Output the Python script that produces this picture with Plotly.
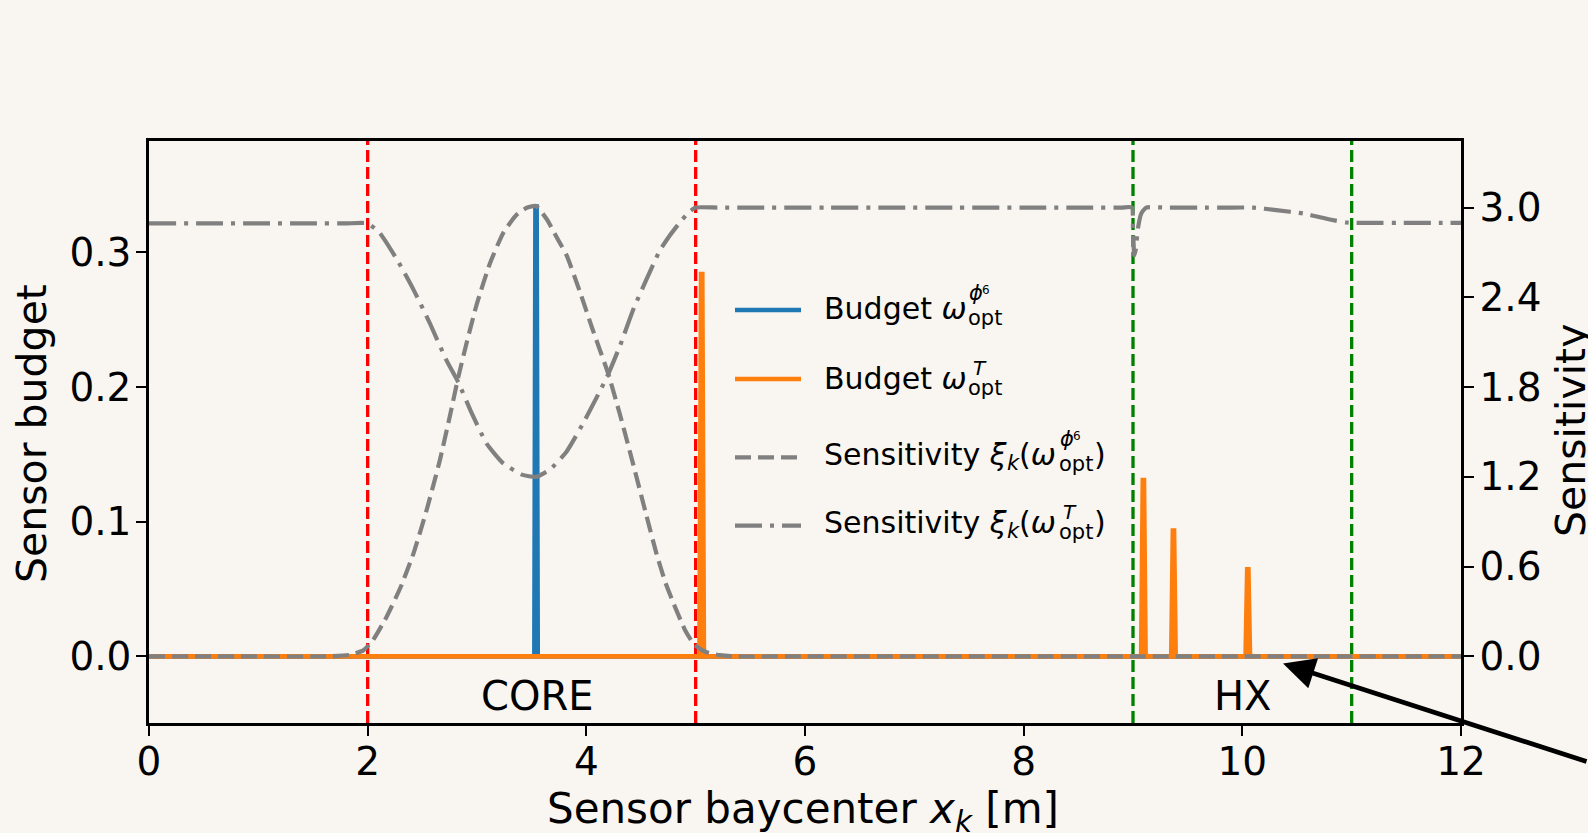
import plotly.graph_objects as go

# ---------------- data ----------------
# sensor barycentre positions [m] and sensitivity read along the loop
sens_phi6_x = [0.0, 0.8, 1.65, 1.84, 1.96, 2.05, 2.17, 2.30, 2.42, 2.54, 2.66, 2.75, 2.83, 2.91,
               3.00, 3.12, 3.24, 3.36, 3.46, 3.54, 3.64, 3.73, 3.82, 3.94, 4.06, 4.20, 4.31,
               4.43, 4.55, 4.64, 4.72, 4.80, 4.90, 4.98, 5.05, 5.12, 5.22, 5.35, 6.0, 7.0,
               8.0, 9.0, 10.0, 11.0, 12.0]
sens_phi6_y = [0.0, 0.0, 0.0, 0.01, 0.04, 0.11, 0.26, 0.46, 0.69, 0.98, 1.31, 1.60, 1.87, 2.11,
               2.36, 2.63, 2.83, 2.95, 3.00, 3.01, 2.92, 2.80, 2.68, 2.44, 2.18, 1.89, 1.61,
               1.28, 0.94, 0.69, 0.50, 0.35, 0.18, 0.085, 0.045, 0.022, 0.008, 0.0, 0.0, 0.0,
               0.0, 0.0, 0.0, 0.0, 0.0]

sens_T_x = [0.0, 0.5, 1.0, 1.5, 1.8, 2.00, 2.11, 2.27, 2.42, 2.57, 2.72, 2.83, 2.94, 3.09,
            3.24, 3.41, 3.54, 3.67, 3.82, 3.98, 4.19, 4.31, 4.43, 4.55, 4.67, 4.76, 4.86,
            4.94, 5.00, 5.2, 5.6, 6.2, 6.8, 7.4, 8.0, 8.6, 8.9, 8.99, 9.00, 9.012, 9.025,
            9.045, 9.075, 9.12, 9.3, 9.6, 9.9, 10.10, 10.31, 10.56, 10.80, 10.95, 11.0,
            11.2, 11.5, 11.8, 12.0]
sens_T_y = [2.894, 2.894, 2.894, 2.894, 2.894, 2.894, 2.83, 2.65, 2.45, 2.225, 1.98, 1.83,
            1.645, 1.42, 1.29, 1.215, 1.20, 1.25, 1.37, 1.57, 1.87, 2.08, 2.32, 2.52, 2.71,
            2.81, 2.905, 2.97, 3.0, 3.0, 3.0, 3.0, 3.0, 3.0, 3.0, 3.0, 3.0, 3.0, 2.86, 2.68,
            2.72, 2.86, 2.96, 3.0, 3.0, 3.0, 3.0, 3.0, 2.983, 2.96, 2.92, 2.90, 2.898,
            2.898, 2.898, 2.898, 2.898]

# optimal sensor budgets (zero everywhere except at the selected sensors)
budget_phi6_x = [0.0, 3.525, 3.535, 3.545, 3.555, 12.0]
budget_phi6_y = [0.0, 0.0, 0.334, 0.334, 0.0, 0.0]

budget_T_x = [0.0, 5.035, 5.05, 5.06, 5.075, 9.075, 9.09, 9.10, 9.115,
              9.35, 9.365, 9.375, 9.39, 10.03, 10.045, 10.055, 10.07, 12.0]
budget_T_y = [0.0, 0.0, 0.284, 0.284, 0.0, 0.0, 0.131, 0.131, 0.0,
              0.0, 0.0935, 0.0935, 0.0, 0.0, 0.0646, 0.0646, 0.0, 0.0]

core_bounds = [2.0, 5.0]
hx_bounds = [9.0, 11.0]
region_labels = ["CORE", "HX"]
region_centers = [3.55, 10.0]

x_ticks = [0, 2, 4, 6, 8, 10, 12]
budget_ticks = [0.0, 0.1, 0.2, 0.3]
sens_ticks = [0.0, 0.6, 1.2, 1.8, 2.4, 3.0]

# ---------------- styling ----------------
BG = "#f9f6f1"
FONT = "DejaVu Sans"
BLUE = "#1f77b4"
ORANGE = "#ff7f0e"
GRAY = "#808080"

W, H = 1588, 833
L, R, T, B = 149, 127, 141, 110
PW, PH = W - L - R, H - T - B


def px(xp):
    return (xp - L) / PW


def py(yp):
    return (H - B - yp) / PH


fig = go.Figure()

fig.add_trace(go.Scatter(x=budget_phi6_x, y=budget_phi6_y, mode="lines",
                         line=dict(color=BLUE, width=4.7), yaxis="y"))
fig.add_trace(go.Scatter(x=budget_T_x, y=budget_T_y, mode="lines",
                         line=dict(color=ORANGE, width=4.7), yaxis="y"))
fig.add_trace(go.Scatter(x=sens_phi6_x, y=sens_phi6_y, mode="lines",
                         line=dict(color=GRAY, width=4.2, dash="16px,7px",
                                   shape="spline", smoothing=0.5),
                         yaxis="y2"))
fig.add_trace(go.Scatter(x=sens_T_x, y=sens_T_y, mode="lines",
                         line=dict(color=GRAY, width=4.2, dash="27px,8px,4px,8px",
                                   shape="spline", smoothing=0.5),
                         yaxis="y2"))

# region boundaries
for xv in core_bounds:
    fig.add_shape(type="line", xref="x", yref="paper", x0=xv, x1=xv, y0=0, y1=1,
                  line=dict(color="red", width=3.3, dash="12px,5px"), layer="below")
for xv in hx_bounds:
    fig.add_shape(type="line", xref="x", yref="paper", x0=xv, x1=xv, y0=0, y1=1,
                  line=dict(color="green", width=3.3, dash="12px,5px"), layer="below")

annotations = []

# region names
for name, xc in zip(region_labels, region_centers):
    annotations.append(dict(x=xc, xref="x", y=py(696), yref="paper", text=name,
                            showarrow=False, xanchor="center", yanchor="middle",
                            font=dict(family=FONT, size=40, color="black")))


def txt(text, x_left, baseline, size):
    annotations.append(dict(x=px(x_left), y=py(baseline - 0.346 * size),
                            xref="paper", yref="paper", text=text, showarrow=False,
                            xanchor="left", yanchor="middle", borderpad=0, borderwidth=0,
                            font=dict(family=FONT, size=size, color="black")))


# legend
leg_rows = [
    (310, 319.3, dict(color=BLUE, width=4.7)),
    (379, 389.3, dict(color=ORANGE, width=4.7)),
    (457.3, 465.0, dict(color=GRAY, width=4.2, dash="16px,7px")),
    (525.7, 533.3, dict(color=GRAY, width=4.2, dash="27px,8px,4px,8px")),
]
for ly, _, lstyle in leg_rows:
    fig.add_shape(type="line", xref="paper", yref="paper", x0=px(735), x1=px(801),
                  y0=py(ly), y1=py(ly), line=lstyle, layer="above")

b1, b2, b3, b4 = [r[1] for r in leg_rows]
txt("Budget <i>ω</i>", 824, b1, 30)
txt("<i>ϕ</i>", 969, b1 - 19, 21)
txt("6", 982, b1 - 25, 12)
txt("opt", 968, b1 + 6, 21)

txt("Budget <i>ω</i>", 824, b2, 30)
txt("<i>T</i>", 973, b2 - 14, 20)
txt("opt", 968, b2 + 6, 21)

for bl, sup in [(b3, "phi"), (b4, "T")]:
    txt("Sensitivity <i>ξ</i>", 824, bl, 30)
    txt("<i>k</i>", 1007, bl + 5, 21)
    txt("(<i>ω</i>", 1019, bl, 30)
    if sup == "phi":
        txt("<i>ϕ</i>", 1060, bl - 19, 21)
        txt("6", 1073, bl - 25, 12)
    else:
        txt("<i>T</i>", 1063, bl - 14, 20)
    txt("opt", 1059, bl + 6, 21)
    txt(")", 1094, bl, 30)

# axis titles
annotations.append(dict(x=px(803), y=py(811), xref="paper", yref="paper",
                        text="Sensor baycenter <i>x</i><sub><i>k</i></sub> [m]",
                        showarrow=False, xanchor="center", yanchor="middle",
                        font=dict(family=FONT, size=42, color="black")))
annotations.append(dict(x=px(32), y=py(434), xref="paper", yref="paper",
                        text="Sensor budget", textangle=-90, showarrow=False,
                        xanchor="center", yanchor="middle",
                        font=dict(family=FONT, size=41, color="black")))
annotations.append(dict(x=px(1571), y=py(430), xref="paper", yref="paper",
                        text="Sensitivity", textangle=-90, showarrow=False,
                        xanchor="center", yanchor="middle",
                        font=dict(family=FONT, size=41, color="black")))

# pointer arrow
annotations.append(dict(x=px(1283), y=py(663.5), xref="paper", yref="paper", text="",
                        showarrow=True, ax=310, ay=98.5, axref="pixel", ayref="pixel",
                        arrowhead=2, arrowsize=1.35, arrowwidth=4.7, arrowcolor="black",
                        standoff=0))

axis_common = dict(showgrid=False, zeroline=False, showline=True, linecolor="black",
                   linewidth=2.5, ticks="outside", ticklen=10, tickwidth=2.2,
                   tickcolor="black", tickfont=dict(family=FONT, size=39, color="black"))

fig.update_layout(
    width=W, height=H,
    margin=dict(l=L, r=R, t=T, b=B, autoexpand=False),
    paper_bgcolor=BG, plot_bgcolor=BG,
    showlegend=False,
    font=dict(family=FONT, color="black"),
    xaxis=dict(range=[0, 12], tickvals=x_ticks, mirror=True, ticklabelstandoff=-8,
               **axis_common),
    yaxis=dict(range=[-0.0495, 0.3828], tickvals=budget_ticks, tickformat=".1f",
               ticklabelstandoff=-3, **axis_common),
    yaxis2=dict(range=[-0.4455, 3.445], tickvals=sens_ticks, tickformat=".1f",
                overlaying="y", side="right", anchor="x", ticklabelstandoff=-2,
                **axis_common),
    annotations=annotations,
)

fig.write_html("out.html")
